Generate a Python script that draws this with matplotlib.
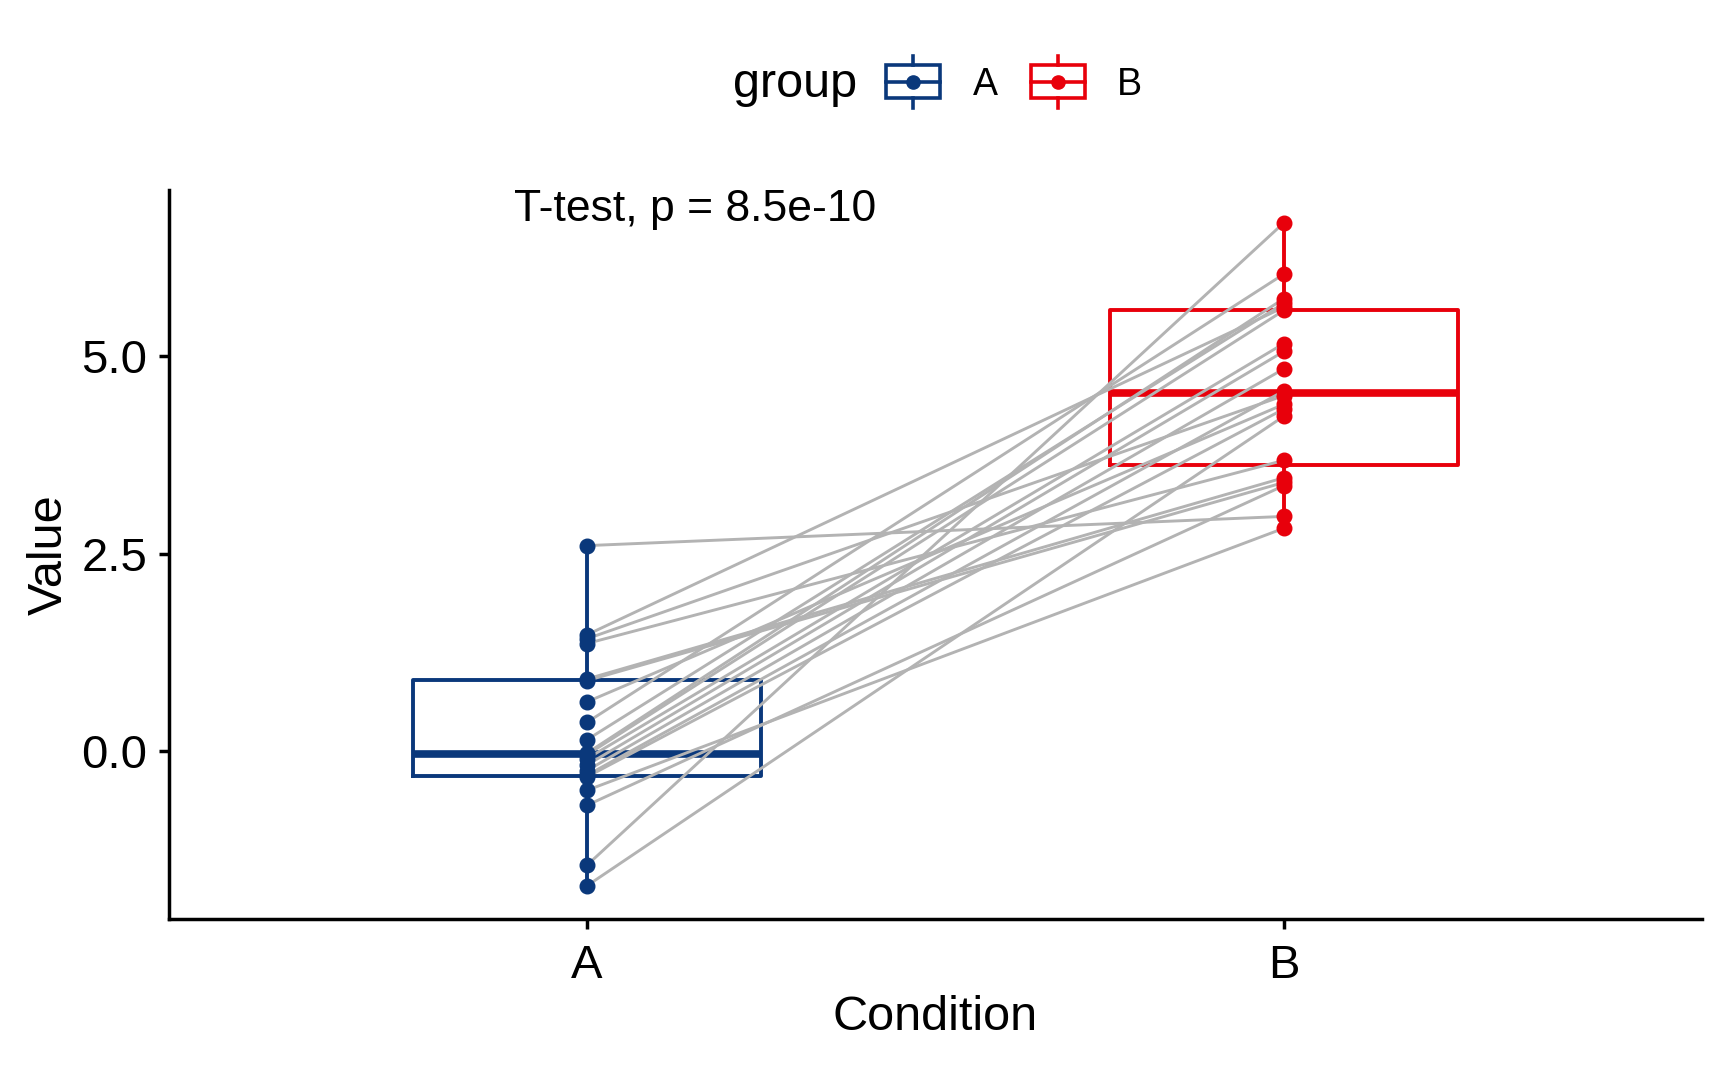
import numpy as np
import matplotlib.pyplot as plt
from matplotlib.lines import Line2D
from matplotlib.patches import Rectangle
from matplotlib.legend_handler import HandlerBase

plt.rcParams['font.family'] = ['Liberation Sans', 'DejaVu Sans']

# paired measurements, one entry per subject (A -> B)
conditions = ['A', 'B']
value_a = [2.60, 1.47, 1.42, 1.36, 0.91, 0.89, 0.62, 0.36, 0.14, -0.03,
           -0.05, -0.10, -0.18, -0.25, -0.31, -0.33, -0.50, -0.69, -1.45, -1.71]
value_b = [2.97, 5.62, 4.50, 3.68, 3.46, 3.40, 4.39, 6.04, 5.67, 5.73,
           5.58, 5.16, 5.06, 4.84, 4.56, 4.33, 2.82, 3.36, 6.69, 4.24]
p_label = 'T-test, p = 8.5e-10'

group_colors = ['#0A387B', '#E8000B']
line_gray = '#B3B3B3'


class BoxKey(HandlerBase):
    # legend key that looks like a small boxplot with a dot
    def create_artists(self, legend, orig_handle, xdescent, ydescent, width, height, fontsize, trans):
        c = orig_handle.get_color()
        x0, y0 = -xdescent, -ydescent
        cx, cy = x0 + width / 2, y0 + height / 2
        lw = 2.6
        box = Rectangle((x0, y0), width, height, fill=False, ec=c, lw=lw, transform=trans)
        mid = Line2D([x0, x0 + width], [cy, cy], color=c, lw=lw, transform=trans)
        top = Line2D([cx, cx], [y0 + height, y0 + height * 1.28], color=c, lw=lw, transform=trans)
        bot = Line2D([cx, cx], [y0 - height * 0.28, y0], color=c, lw=lw, transform=trans)
        dot = Line2D([cx], [cy], marker='o', ms=9.5, color=c, lw=0, transform=trans)
        return [box, mid, top, bot, dot]


fig = plt.figure(figsize=(17.28, 10.67), dpi=100)
ax = fig.add_axes([0.0976, 0.1387, 0.8874, 0.6836])

data = [value_a, value_b]
pos = [1, 2]

for i in range(2):
    c = group_colors[i]
    ax.boxplot([data[i]], positions=[pos[i]], widths=0.5, showcaps=False, showfliers=False,
               boxprops=dict(color=c, lw=2.8), whiskerprops=dict(color=c, lw=2.8),
               medianprops=dict(color=c, lw=5.5, solid_capstyle='butt'), zorder=2)

# paired lines
for a, b in zip(value_a, value_b):
    ax.plot(pos, [a, b], color=line_gray, lw=2.1, zorder=3)

for i in range(2):
    ax.plot([pos[i]] * len(data[i]), data[i], 'o', color=group_colors[i], ms=10.5, zorder=4)

allv = np.concatenate([value_a, value_b])
rng = allv.max() - allv.min()
ax.set_ylim(allv.min() - 0.05 * rng, allv.max() + 0.05 * rng)
ax.set_xlim(0.4, 2.6)
ax.set_xticks(pos)
ax.set_xticklabels(conditions)
ax.set_yticks([0, 2.5, 5.0])
ax.set_yticklabels(['0.0', '2.5', '5.0'])

for s in ['top', 'right']:
    ax.spines[s].set_visible(False)
for s in ['left', 'bottom']:
    ax.spines[s].set_linewidth(2.5)
ax.tick_params(axis='both', length=7.2, width=2.5, labelsize=34)
ax.tick_params(axis='y', pad=8)
ax.tick_params(axis='x', pad=10.5)

ax.set_xlabel('Condition', fontsize=35, labelpad=5)
ax.set_ylabel('Value', fontsize=35, labelpad=7)

ax.text(0.895, 6.86, p_label, fontsize=32, ha='left', va='center')

# legend on top
handles = [Line2D([], [], color=c) for c in group_colors]
fig.text(733 / 1728, 1 - 97 / 1067, 'group', fontsize=35, ha='left', va='baseline')
fig.legend(handles, conditions, loc='center left', bbox_to_anchor=(886 / 1728, 1 - 84 / 1067),
           ncol=2, frameon=False, fontsize=27, handlelength=1.45, handleheight=0.98,
           handletextpad=0.86, columnspacing=0.88, borderpad=0, borderaxespad=0,
           handler_map={Line2D: BoxKey()})

fig.savefig('out.png', dpi=100)
